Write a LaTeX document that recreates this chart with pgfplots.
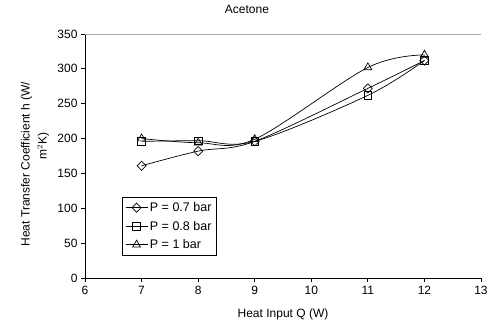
\documentclass[border=0pt]{standalone}
\usepackage{fontspec}
\setmainfont{Liberation Sans}
\usepackage{pgfplots}
\pgfplotsset{compat=1.18}
\begin{document}
\begin{tikzpicture}
\begin{axis}[
  scale only axis,
  width=396pt, height=244pt,
  xmin=6, xmax=13, ymin=0, ymax=350,
  xtick={6,...,13}, ytick={0,50,...,350},
  axis x line*=bottom, axis y line*=left,
  axis line style={black, line width=0.8pt},
  tick align=outside, major tick length=4pt,
  tick style={black, line width=0.8pt},
  /pgf/number format/assume math mode=true,
  tick label style={font=\fontsize{12}{14}\selectfont},
  xticklabel style={yshift=-1pt},
  title={Acetone},
  title style={font=\fontsize{12}{14}\selectfont, at={(axis description cs:0.409,1.075)}, anchor=center},
  xlabel={Heat Input Q (W)},
  xlabel style={font=\fontsize{12}{14}\selectfont, at={(axis description cs:0.5,-0.148)}, anchor=center},
  ylabel={Heat Transfer Coefficient  h (W/\\\hspace*{36pt}m$^{2}$K)},
  ylabel style={font=\fontsize{12}{17}\selectfont, align=center, at={(axis description cs:-0.126,0.467)}, anchor=center, rotate=0},
  legend style={at={(axis description cs:0.093,0.332)}, anchor=north west, draw=black, line width=0.8pt, font=\fontsize{12.5}{14}\selectfont, row sep=4pt, inner sep=3pt},
  legend cell align=left,
  legend image code/.code={\draw[#1] (0pt,0pt) -- (11pt,0pt) plot coordinates {(11pt,0pt)} -- (22pt,0pt);},
  every axis plot/.append style={black, line width=0.7pt, smooth, tension=0.55},
]
\addplot[mark=diamond, mark size=4.6pt, mark options={solid, fill=white, xscale=1.3}] coordinates {(7,161) (8,182) (9,196) (11,272) (12,312)};
\addlegendentry{P = 0.7 bar}
\addplot[mark=square, mark size=3.8pt, mark options={solid, fill=white}] coordinates {(7,196) (8,197) (9,196) (11,262) (12,312)};
\addlegendentry{P = 0.8 bar}
\addplot[mark=triangle, mark size=4.6pt, mark options={solid, fill=white}] coordinates {(7,200) (8,194) (9,199) (11,302) (12,320)};
\addlegendentry{P = 1 bar}
\draw[gray!70, line width=0.8pt] (rel axis cs:0,1) -- (rel axis cs:1,1) -- (rel axis cs:1,0);
\coordinate (O) at (rel axis cs:0,0);
\end{axis}
\pgfresetboundingbox
\path[use as bounding box] (O) ++(-85pt,-46pt) rectangle ++(487pt,324pt);
\end{tikzpicture}
\end{document}
